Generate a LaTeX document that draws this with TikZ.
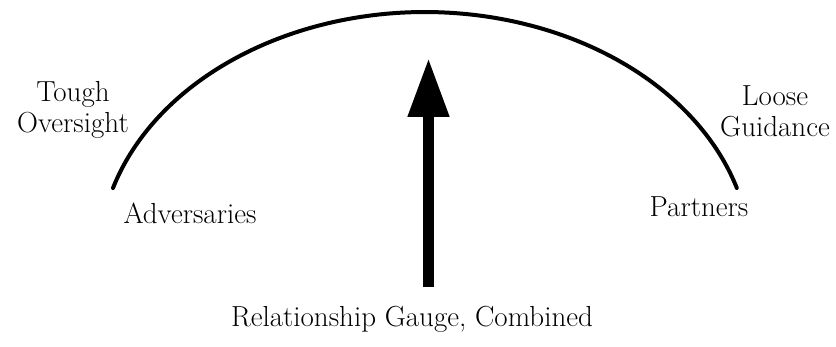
\documentclass[tikz,border=0pt]{standalone}
\usetikzlibrary{arrows.meta}
\begin{document}
\begin{tikzpicture}[x=1pt, y=1pt,
  every node/.style={inner sep=0, font=\fontsize{29}{31.5}\selectfont},
  gauge/.style={line width=4pt, line cap=round},
  needle/.style={line width=11pt, -{Triangle[length=59pt, width=39pt]}}]
  \useasboundingbox (0,0) rectangle (836,346);
  \draw[gauge] (113,158) arc[start angle=163.1, end angle=16.9, x radius=326, y radius=248];
  \coordinate (needlebase) at (428.5,59);
  \coordinate (needletip)  at (428.5,288);
  \draw[needle] (needlebase) -- (needletip);
  \node[anchor=base, align=center] (tough) at (73,213)  {Tough\\Oversight};
  \node[anchor=base, align=center] (loose) at (775,209) {Loose\\Guidance};
  \node[anchor=base] (adv)      at (190,123) {Adversaries};
  \node[anchor=base] (partners) at (699,129) {Partners};
  \node[anchor=base] (gaugelabel) at (412,20) {Relationship Gauge, Combined};
\end{tikzpicture}
\end{document}
